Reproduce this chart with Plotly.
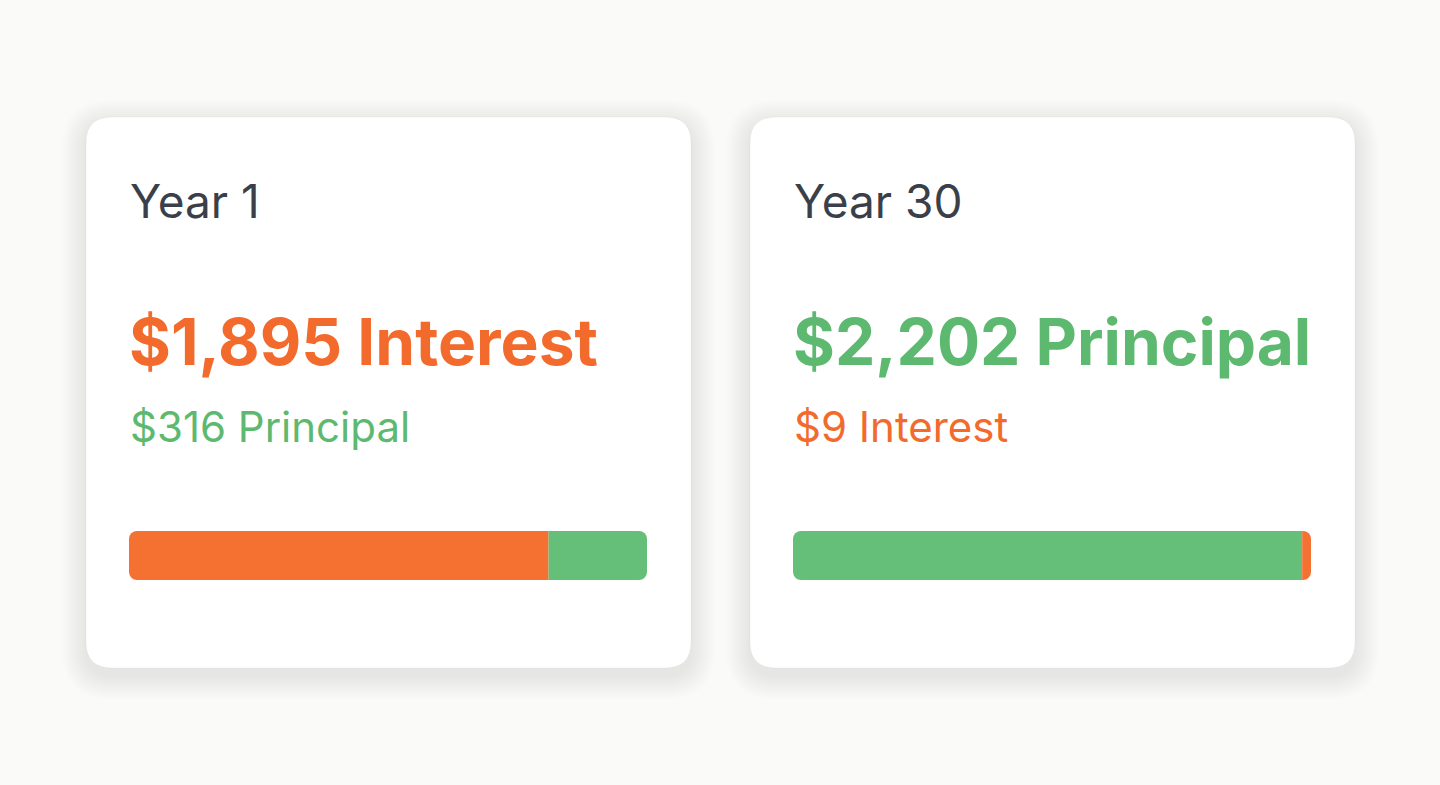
import plotly.graph_objects as go

# card data
years = ["Year 1", "Year 30"]
interest = [1895, 9]
principal = [316, 2202]
# share of the bar as drawn in the picture (%)
bar_interest = [81.0, 1.7]
bar_principal = [19.0, 98.3]

ORANGE = "#F26B2C"
GREEN = "#5DB96F"
BAR_ORANGE = "#F57132"
BAR_GREEN = "#66BF79"
DARK = "#3A3F4A"
FONT = "Inter, Roboto, sans-serif"

W, H = 1440, 785
cards_x = [86, 750]
card_w, card_top, card_bot = 605, 117, 668
pad = 44


def rounded(x0, y0, x1, y1, r):
    return (f"M{x0+r},{y0} L{x1-r},{y0} Q{x1},{y0} {x1},{y0+r} "
            f"L{x1},{y1-r} Q{x1},{y1} {x1-r},{y1} L{x0+r},{y1} "
            f"Q{x0},{y1} {x0},{y1-r} L{x0},{y0+r} Q{x0},{y0} {x0+r},{y0} Z")


fig = go.Figure()
shapes = []
annotations = []

for i, cx in enumerate(cards_x):
    x0, x1 = cx, cx + card_w
    # soft shadow
    for k in range(1, 11):
        g = k * 2.4
        shapes.append(dict(type="path", xref="x", yref="y", layer="below",
                           path=rounded(x0 - g, card_top - g + 7, x1 + g, card_bot + g + 7, 26 + g),
                           fillcolor="rgba(0,0,0,0.006)", line=dict(width=0)))
    shapes.append(dict(type="path", xref="x", yref="y", layer="below",
                       path=rounded(x0, card_top, x1, card_bot, 26),
                       fillcolor="#FFFFFF", line=dict(color="rgba(0,0,0,0.035)", width=1)))

    if interest[i] >= principal[i]:
        big = (f"${interest[i]:,} Interest", ORANGE)
        small = (f"${principal[i]:,} Principal", GREEN)
        segs = [(bar_interest[i], BAR_ORANGE), (bar_principal[i], BAR_GREEN)]
    else:
        big = (f"${principal[i]:,} Principal", GREEN)
        small = (f"${interest[i]:,} Interest", ORANGE)
        segs = [(bar_principal[i], BAR_GREEN), (bar_interest[i], BAR_ORANGE)]

    tx = x0 + pad
    annotations.append(dict(x=tx - 2, y=201, xref="x", yref="y", text=years[i], showarrow=False,
                            xanchor="left", yanchor="middle",
                            font=dict(family=FONT, size=46, color=DARK)))
    annotations.append(dict(x=tx - 3, y=341, xref="x", yref="y", text=big[0], showarrow=False,
                            xanchor="left", yanchor="middle",
                            font=dict(family=FONT, size=64, color=big[1], weight=700)))
    annotations.append(dict(x=tx - 2, y=426, xref="x", yref="y", text=small[0], showarrow=False,
                            xanchor="left", yanchor="middle",
                            font=dict(family=FONT, size=42, color=small[1])))

    # progress bar: lead segment stacked to the left of zero, the rest to the right,
    # so only the two outer ends get rounded
    xa, ya = f"x{i+2}", f"y{i+2}"
    first, second = segs
    fig.add_trace(go.Bar(y=[0], x=[-first[0]], orientation="h", width=1,
                         marker=dict(color=first[1], line=dict(width=0)),
                         xaxis=xa, yaxis=ya, hoverinfo="skip", showlegend=False))
    fig.add_trace(go.Bar(y=[0], x=[second[0]], orientation="h", width=1,
                         marker=dict(color=second[1], line=dict(width=0)),
                         xaxis=xa, yaxis=ya, hoverinfo="skip", showlegend=False))

    bx0 = cx + pad - 1
    bx1 = cx + card_w - 44
    fig.update_layout({
        f"xaxis{i+2}": dict(range=[-first[0], second[0]], domain=[bx0 / W, bx1 / W],
                            anchor=f"y{i+2}", visible=False, fixedrange=True),
        f"yaxis{i+2}": dict(range=[-0.5, 0.5], domain=[1 - 580 / H, 1 - 531 / H],
                            anchor=f"x{i+2}", visible=False, fixedrange=True),
    })

fig.update_layout(
    width=W, height=H,
    margin=dict(l=0, r=0, t=0, b=0),
    paper_bgcolor="#FAFAF9", plot_bgcolor="rgba(0,0,0,0)",
    barmode="relative", barcornerradius=8, showlegend=False,
    xaxis=dict(range=[0, W], domain=[0, 1], visible=False, fixedrange=True),
    yaxis=dict(range=[H, 0], domain=[0, 1], visible=False, fixedrange=True),
    shapes=shapes, annotations=annotations,
)

fig.write_html("out.html", config={"displayModeBar": False},
               post_script="document.body.style.margin='0';document.body.style.overflow='hidden';")
